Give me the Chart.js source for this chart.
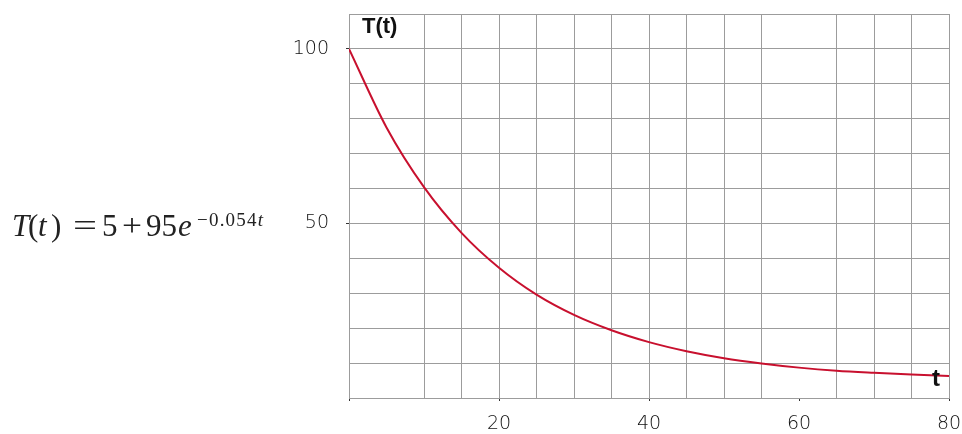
<!DOCTYPE html>
<html>
<head>
<meta charset="utf-8">
<script src="https://cdn.jsdelivr.net/npm/chart.js@4/dist/chart.umd.min.js"></script>
<style>
  html, body { margin: 0; padding: 0; background: #fff; }
  #wrap { position: relative; width: 962px; height: 434px; }
  #plot { position: absolute; left: 0; top: 0; }
  #eq { position: absolute; left: 0; top: 0; pointer-events: none; }
</style>
</head>
<body>
<div id="wrap">
  <canvas id="plot" width="962" height="434"></canvas>
  <svg id="eq" width="962" height="434" xmlns="http://www.w3.org/2000/svg">
    <g font-family="Liberation Serif, Times New Roman, serif" font-size="31" fill="#222">
      <text x="12" y="236" font-style="italic">T</text>
      <text x="28" y="236">(</text>
      <text x="38" y="236" font-style="italic">t</text>
      <text x="51" y="236">)</text>
      <text x="73" y="236" textLength="24" lengthAdjust="spacingAndGlyphs">=</text>
      <text x="102" y="236">5</text>
      <text x="122" y="236" textLength="20" lengthAdjust="spacingAndGlyphs">+</text>
      <text x="146" y="236" textLength="31" lengthAdjust="spacing">95</text>
      <text x="178" y="236" font-style="italic">e</text>
      <text x="197" y="226" font-size="19" textLength="66" lengthAdjust="spacing">−0.054<tspan font-style="italic">t</tspan></text>
    </g>
  </svg>
</div>
<script>
// Time (minutes) and temperature readings along the cooling curve
const timeValues = [0, 5, 10, 15, 20, 25, 30, 35, 40, 45, 50, 55, 60, 65, 70, 75, 80];
const tempValues = [100, 77.5, 60.4, 47.3, 37.3, 29.6, 23.8, 19.4, 16.0, 13.4, 11.4, 9.9, 8.7, 7.8, 7.2, 6.7, 6.3];

// Labelled ticks on each axis
const xTickLabels = [20, 40, 60, 80];
const yTickLabels = [50, 100];
// Vertical grid lines left out of the grid
const xSkippedGrid = [5, 60];

const gridGray = '#9c9c9c';
const noColor = 'rgba(0,0,0,0)';
const tickFont = { family: 'DejaVu Sans', size: 19, weight: 300 };

// Axis names drawn inside the plot frame
const axisNames = {
  id: 'axisNames',
  afterDraw(chart) {
    const { ctx, scales } = chart;
    const x = scales.x, y = scales.y;
    ctx.save();
    ctx.fillStyle = '#111';
    ctx.textBaseline = 'alphabetic';
    ctx.textAlign = 'left';
    ctx.font = 'bold 22px "Liberation Sans", Arial, sans-serif';
    ctx.fillText('T(t)', x.getPixelForValue(0) + 13, y.getPixelForValue(110) + 19);
    ctx.font = 'bold 24px "Liberation Sans", Arial, sans-serif';
    ctx.fillText('t', x.getPixelForValue(80) - 17, y.getPixelForValue(0) - 12);
    ctx.restore();
  }
};

new Chart(document.getElementById('plot'), {
  type: 'line',
  data: {
    datasets: [{
      data: timeValues.map((t, i) => ({ x: t, y: tempValues[i] })),
      borderColor: '#c8102e',
      borderWidth: 2,
      pointRadius: 0,
      fill: false,
      cubicInterpolationMode: 'monotone'
    }]
  },
  options: {
    responsive: false,
    animation: false,
    events: [],
    layout: { padding: { left: 0, top: 14, right: 13, bottom: 0 } },
    plugins: { legend: { display: false }, tooltip: { enabled: false } },
    scales: {
      x: {
        type: 'linear',
        min: 0,
        max: 80,
        afterFit(scale) {
          scale.height = 36;
          scale.paddingLeft = 0;
          scale.paddingRight = 0;
        },
        ticks: {
          stepSize: 5,
          autoSkip: false,
          maxRotation: 0,
          padding: 12,
          color: '#111',
          font: tickFont,
          callback(v) { return xTickLabels.includes(v) ? String(v) : ''; }
        },
        grid: {
          color(ctx) {
            const v = ctx.tick && ctx.tick.value;
            return xSkippedGrid.includes(v) ? noColor : gridGray;
          },
          lineWidth: 1,
          tickLength: 3,
          tickColor(ctx) {
            const v = ctx.tick && ctx.tick.value;
            return (v === 0 || xTickLabels.includes(v)) ? '#333' : noColor;
          }
        },
        border: { color: gridGray, width: 1 }
      },
      y: {
        min: 0,
        max: 110,
        afterFit(scale) {
          scale.width = 349;
          scale.paddingTop = 0;
          scale.paddingBottom = 0;
        },
        ticks: {
          stepSize: 10,
          autoSkip: false,
          padding: 17,
          color: '#111',
          font: tickFont,
          callback(v) { return yTickLabels.includes(v) ? String(v) : ''; }
        },
        grid: {
          color: gridGray,
          lineWidth: 1,
          tickLength: 3,
          tickColor(ctx) {
            const v = ctx.tick && ctx.tick.value;
            return yTickLabels.includes(v) ? '#333' : noColor;
          }
        },
        border: { color: gridGray, width: 1 }
      }
    }
  },
  plugins: [axisNames]
});
</script>
</body>
</html>
